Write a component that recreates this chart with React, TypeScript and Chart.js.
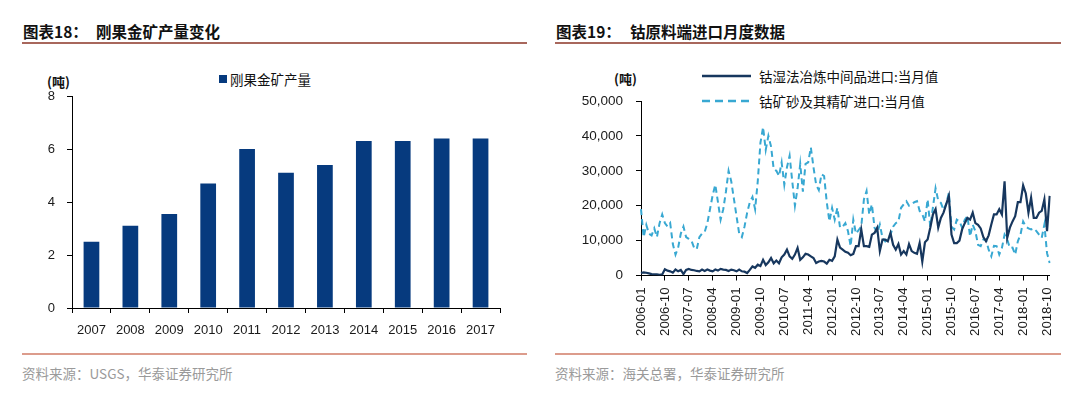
import React, { useEffect, useRef } from "react";
import { Chart, registerables } from "chart.js";

Chart.register(...registerables);

// ---------- Chart 18: DRC cobalt output ----------
const years = ["2007", "2008", "2009", "2010", "2011", "2012", "2013", "2014", "2015", "2016", "2017"];
const drcCobaltOutput = [2.5, 3.1, 3.55, 4.7, 6.0, 5.1, 5.4, 6.3, 6.3, 6.4, 6.4];
const barAxisMax = 8;
const barAxisStep = 2;

// ---------- Chart 19: monthly cobalt raw-material imports (tonnes) ----------
const intermediateImports = [
  700, 900, 800, 600, 400, 300, 300, 200, 300, 1800,
  1400, 1200, 800, 1700, 1200, 1600, 400, 1600, 1900, 1600,
  1500, 1300, 1200, 1700, 1300, 1700, 1400, 1200, 1700, 1400,
  1900, 1700, 1600, 1300, 1700, 1500, 1200, 1700, 1200, 1100,
  700, 1600, 2600, 2200, 3100, 2700, 4500, 3000, 3800, 5000,
  3500, 4300, 3500, 5200, 6000, 7400, 5500, 4800, 6000, 7900,
  4500, 5200, 6200, 6000, 5500, 5000, 3600, 4000, 4200, 4000,
  3400, 4500, 4200, 5500, 10300, 8000, 7400, 6800, 6500, 5800,
  6200, 8400, 8400, 13200, 8400, 8400, 8200, 11700, 12200, 13700,
  7000, 10300, 10300, 9800, 12200, 8800, 7400, 9000, 6000, 7000,
  6000, 9000, 7000, 6500, 6200, 9300, 4000, 9500, 10300, 13700,
  17500, 19000, 13700, 16500, 18000, 20400, 22800, 11700, 9300, 9300,
  10000, 13200, 15000, 16500, 16000, 18000, 15000, 14500, 13500, 11000,
  9800, 11500, 14600, 17500, 17500, 19000, 17500, 27000, 10800, 13700,
  15500, 17000, 21000, 21000, 25800, 23500, 18000, 22300, 16500, 16500,
  18000, 18500, 21800, 12700, 22800,
];
const oreImports = [
  19000, 11000, 14500, 12000, 11500, 13500, 11000, 15000, 17500, 15000,
  14000, 15000, 9000, 6000, 8000, 12000, 14000, 11000, 10500, 10000,
  8000, 7500, 11000, 12000, 12500, 15000, 19000, 23000, 26000, 21000,
  16000, 19000, 24000, 30000, 27000, 22000, 17000, 12000, 11000, 14000,
  18000, 21000, 22500, 19000, 27000, 38000, 42500, 36000, 40000, 37000,
  30500, 30000, 28500, 32400, 26000, 31000, 34300, 27000, 20000, 25000,
  32000, 24000, 32000, 32400, 36700, 31000, 26000, 24500, 29000, 28500,
  21000, 15500, 19400, 16000, 19400, 13700, 14000, 15000, 12700, 8400,
  16000, 12000, 13000, 14000, 21800, 24200, 17500, 20400, 13700, 12200,
  14600, 10800, 9800, 10800, 11700, 14000, 15000, 15500, 19400, 20400,
  21300, 20000, 20400, 21000, 21300, 18500, 17500, 15500, 21800, 14000,
  19500, 25000, 21500, 20800, 18800, 20500, 23700, 14000, 13200, 16000,
  15500, 13700, 16000, 17000, 11200, 14600, 12700, 8800, 8400, 10300,
  10300, 7400, 5500, 8500, 8400, 6000, 7900, 11700, 10300, 7900,
  8000, 6000, 9800, 11700, 15500, 14000, 13500, 13200, 13500, 12700,
  11700, 10800, 14600, 6400, 3600,
];
const START_YEAR = 2006;
const months = intermediateImports.map((_, i) => {
  const y = START_YEAR + Math.floor(i / 12);
  const m = (i % 12) + 1;
  return `${y}-${m < 10 ? "0" + m : m}`;
});
const monthLabelEvery = 9;
const lineAxisMax = 50000;
const lineAxisStep = 10000;

const seriesNames = ["钴湿法冶炼中间品进口:当月值", "钴矿砂及其精矿进口:当月值"];

// ---------- styles ----------
const BAR_COLOR = "#063a7e";
const SOLID_COLOR = "#17375e";
const DASH_COLOR = "#38a8d2";
const LATIN = "'Liberation Sans', Arial, sans-serif";
const CJK = "'Noto Sans CJK SC', 'Liberation Sans', sans-serif";
const TICK_COLOR = "#1a1a1a";

function BarChart() {
  const ref = useRef<HTMLCanvasElement | null>(null);
  useEffect(() => {
    if (!ref.current) return;
    const chart = new Chart(ref.current, {
      type: "bar",
      data: {
        labels: years,
        datasets: [
          {
            label: "刚果金矿产量",
            data: drcCobaltOutput,
            backgroundColor: BAR_COLOR,
            borderWidth: 0,
            barPercentage: 0.808,
            categoryPercentage: 0.5,
          },
        ],
      },
      options: {
        animation: false,
        responsive: false,
        maintainAspectRatio: false,
        layout: { padding: { left: 0, top: 36, right: 30, bottom: 0 } },
        plugins: { legend: { display: false }, tooltip: { enabled: false } },
        scales: {
          x: {
            grid: {
              display: true,
              drawOnChartArea: false,
              drawTicks: true,
              tickLength: 5,
              color: "#000",
              offset: true,
            },
            border: { display: true, color: "#000", width: 1 },
            ticks: {
              font: { family: LATIN, size: 13 },
              color: TICK_COLOR,
              padding: 10,
              maxRotation: 0,
              autoSkip: false,
            },
            afterFit: (s: any) => {
              s.height = 42;
            },
          },
          y: {
            min: 0,
            max: barAxisMax,
            ticks: {
              stepSize: barAxisStep,
              font: { family: LATIN, size: 13 },
              color: TICK_COLOR,
              padding: 12,
            },
            grid: { drawOnChartArea: false, drawTicks: true, tickLength: 5, color: "#000" },
            border: { display: true, color: "#000", width: 1 },
            afterFit: (s: any) => {
              s.width = 72;
            },
          },
        },
      },
    });
    return () => chart.destroy();
  }, []);
  return (
    <canvas
      ref={ref}
      width={530}
      height={290}
      style={{ position: "absolute", left: 0, top: 60, width: 530, height: 290 }}
    />
  );
}

function LineChart() {
  const ref = useRef<HTMLCanvasElement | null>(null);
  useEffect(() => {
    if (!ref.current) return;
    const chart = new Chart(ref.current, {
      type: "line",
      data: {
        labels: months,
        datasets: [
          {
            label: seriesNames[0],
            data: intermediateImports,
            borderColor: SOLID_COLOR,
            borderWidth: 2.2,
            pointRadius: 0,
            tension: 0,
            fill: false,
          },
          {
            label: seriesNames[1],
            data: oreImports,
            borderColor: DASH_COLOR,
            borderWidth: 2,
            borderDash: [6, 4],
            pointRadius: 0,
            tension: 0,
            fill: false,
          },
        ],
      },
      options: {
        animation: false,
        responsive: false,
        maintainAspectRatio: false,
        layout: { padding: { left: 0, top: 41, right: 20, bottom: 0 } },
        plugins: { legend: { display: false }, tooltip: { enabled: false } },
        scales: {
          x: {
            type: "category",
            offset: false,
            afterBuildTicks: (axis: any) => {
              axis.ticks = axis.ticks.filter((t: any) => t.value % monthLabelEvery === 0);
            },
            grid: {
              display: true,
              drawOnChartArea: false,
              drawTicks: true,
              tickLength: 5,
              color: "#000",
              offset: false,
            },
            border: { display: true, color: "#000", width: 1 },
            ticks: {
              font: { family: LATIN, size: 13.2 },
              color: TICK_COLOR,
              padding: 7,
              minRotation: 90,
              maxRotation: 90,
              autoSkip: false,
            },
            afterFit: (s: any) => {
              s.height = 74.5;
            },
          },
          y: {
            min: 0,
            max: lineAxisMax,
            ticks: {
              stepSize: lineAxisStep,
              font: { family: LATIN, size: 13.5 },
              color: TICK_COLOR,
              padding: 13,
              callback: (v: any) => Number(v).toLocaleString("en-US"),
            },
            grid: { drawOnChartArea: false, drawTicks: true, tickLength: 5, color: "#000" },
            border: { display: true, color: "#000", width: 1 },
            afterFit: (s: any) => {
              s.width = 101;
            },
          },
        },
      },
    });
    return () => chart.destroy();
  }, []);
  return (
    <canvas
      ref={ref}
      width={530}
      height={290}
      style={{ position: "absolute", left: 540, top: 60, width: 530, height: 290 }}
    />
  );
}

function Text(props: {
  x: number;
  cy: number;
  size: number;
  children: React.ReactNode;
  color?: string;
  weight?: number | string;
  family?: string;
}) {
  const { x, cy, size, children, color = "#111", weight = 400, family = CJK } = props;
  return (
    <div
      style={{
        position: "absolute",
        left: x,
        top: cy - size * 0.7,
        height: size * 1.4,
        lineHeight: `${size * 1.4}px`,
        fontSize: size,
        fontFamily: family,
        fontWeight: weight as any,
        color,
        whiteSpace: "nowrap",
      }}
    >
      {children}
    </div>
  );
}

function HLine(props: { x1: number; x2: number; y: number; color: string; h: number }) {
  return (
    <div
      style={{
        position: "absolute",
        left: props.x1,
        top: props.y - props.h / 2,
        width: props.x2 - props.x1,
        height: props.h,
        background: props.color,
      }}
    />
  );
}

export default function App() {
  return (
    <div
      style={{
        position: "fixed",
        left: 0,
        top: 0,
        width: 1080,
        height: 395,
        background: "#fff",
        overflow: "hidden",
      }}
    >
      {/* Left panel */}
      <Text x={23} cy={31.5} size={15.5} weight={700}>
        图表18：
      </Text>
      <Text x={96} cy={31.5} size={15.5} weight={700}>
        刚果金矿产量变化
      </Text>
      <HLine x1={22} x2={527} y={42.5} color="#a8675c" h={2} />
      <Text x={47} cy={82} size={13} weight={600}>
        (吨)
      </Text>
      <div
        style={{
          position: "absolute",
          left: 219,
          top: 75,
          width: 8,
          height: 8,
          background: BAR_COLOR,
        }}
      />
      <Text x={230} cy={79} size={13.5}>
        刚果金矿产量
      </Text>
      <BarChart />
      <HLine x1={22} x2={527} y={354} color="#dc9c8c" h={1.5} />
      <Text x={22} cy={373} size={13.5} color="#9a9a9a">
        资料来源：USGS，华泰证券研究所
      </Text>

      {/* Right panel */}
      <Text x={556} cy={31.5} size={15.5} weight={700}>
        图表19：
      </Text>
      <Text x={630} cy={31.5} size={15.5} weight={700}>
        钴原料端进口月度数据
      </Text>
      <HLine x1={555} x2={1061} y={42.5} color="#a8675c" h={2} />
      <Text x={614} cy={79} size={13} weight={600}>
        (吨)
      </Text>
      <svg
        style={{ position: "absolute", left: 700, top: 66, width: 56, height: 44 }}
        width={56}
        height={44}
      >
        <line x1={2} y1={10} x2={51} y2={10} stroke={SOLID_COLOR} strokeWidth={2.4} />
        <line
          x1={2}
          y1={35}
          x2={51}
          y2={35}
          stroke={DASH_COLOR}
          strokeWidth={2.4}
          strokeDasharray="8 5"
        />
      </svg>
      <Text x={759} cy={76} size={13.5}>
        {seriesNames[0]}
      </Text>
      <Text x={759} cy={101} size={13.5}>
        {seriesNames[1]}
      </Text>
      <LineChart />
      <HLine x1={555} x2={1061} y={354} color="#dc9c8c" h={1.5} />
      <Text x={555} cy={373} size={13.5} color="#9a9a9a">
        资料来源：海关总署，华泰证券研究所
      </Text>
    </div>
  );
}
